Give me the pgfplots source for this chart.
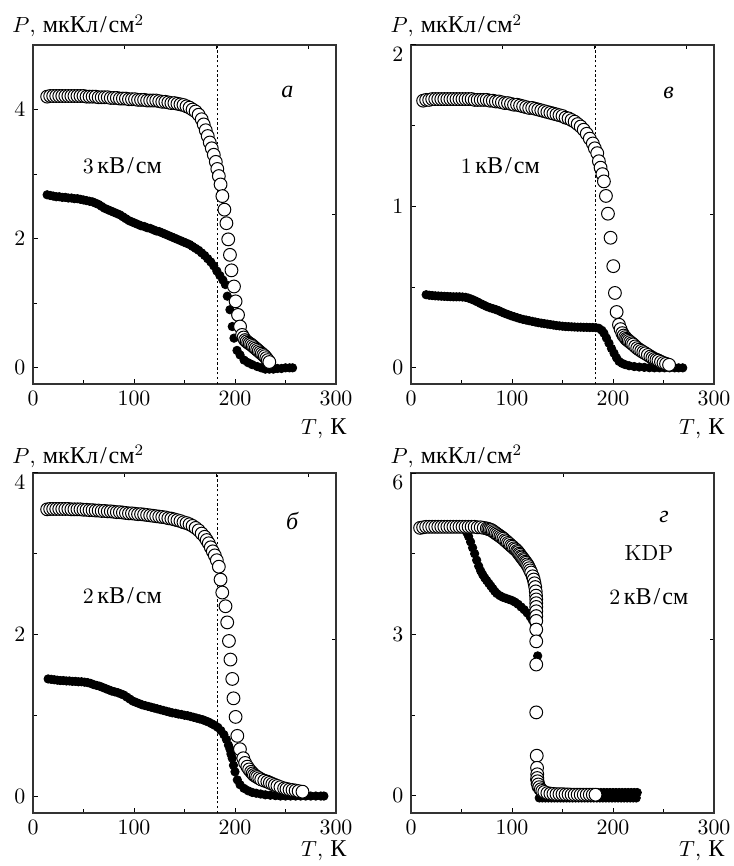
\documentclass[11pt,border=0pt]{standalone}
\usepackage{fontspec}
\newfontfamily\cyr[Scale=1.1]{Liberation Serif}
\usepackage{pgfplots}
\pgfplotsset{compat=1.18}

\newcommand{\unit}{{\cyr кВ\kern1pt/\kern1pt см}}

\pgfplotsset{
  panel/.style={
    scale only axis, width=151.5pt,
    xmin=0, xmax=300,
    xtick={0,100,200,300}, minor xtick={50,150,250},
    xtick pos=left, ytick pos=left,
    tick align=inside,
    major tick length=2.6pt, minor tick length=1.8pt,
    axis line style={line width=0.6pt, black!80},
    every tick/.style={line width=0.5pt, black},
    extra y tick style={yticklabel style={yshift=-4.5pt}},
    xlabel style={at={(axis description cs:1.036,0)}, anchor=base east, inner sep=0pt},
    ylabel style={rotate=-90, at={(axis description cs:-0.069,1)}, anchor=base west, inner sep=0pt},
    ylabel={$P$, {\cyr мкКл\kern1pt/\kern1pt см}$^2$},
    xlabel={$T$, {\cyr К}},
  },
  extraticks/.style={
    scale only axis, width=151.5pt,
    xmin=0, xmax=300,
    xtick pos=right, ytick pos=right,
    xticklabels={}, yticklabels={},
    tick align=inside, major tick length=2pt,
    axis line style={draw=none},
    every tick/.style={line width=0.5pt, black},
  },
  open/.style={only marks, mark=*, mark size=3.2pt,
    mark options={fill=white, draw=black, line width=0.5pt}},
  full/.style={only marks, mark=*, mark size=2.1pt,
    mark options={fill=black, draw=black}},
  tc/.style={dash pattern=on 1.2pt off 1.2pt, line width=0.45pt},
}

\begin{document}
\begin{tikzpicture}
\useasboundingbox (0,0) rectangle (366.5pt,433pt);

% ---------- panel a : 3 kV/cm ----------
\begin{axis}[extraticks, at={(16.5pt,241pt)}, anchor=south west, height=169.5pt,
  ymin=-0.25, ymax=5, xtick={91,182,273}, ytick={2.37}]
\end{axis}
\begin{axis}[panel, at={(16.5pt,241pt)}, anchor=south west, height=169.5pt,
  ymin=-0.25, ymax=5, ytick={0,2,4}, minor ytick={1,3},
  xlabel style={yshift=-25.5pt}, ylabel style={yshift=6pt}]
\addplot[tc] coordinates {(182.5,-0.25) (182.5,5)};
\addplot[full] coordinates {
(14,2.68)(17,2.67)(20,2.66)(23,2.65)(26,2.65)(29,2.64)(32,2.64)(35,2.63)(38,2.63)(41,2.62)
(44,2.62)(47,2.61)(50,2.60)(53,2.59)(56,2.58)(59,2.57)(62,2.55)(65,2.53)(68,2.50)(71,2.47)
(74,2.45)(77,2.43)(80,2.41)(83,2.39)(86,2.37)(89,2.34)(92,2.31)(95,2.28)(98,2.26)(101,2.24)
(104,2.22)(107,2.20)(110,2.19)(113,2.17)(116,2.16)(119,2.14)(122,2.12)(125,2.11)(128,2.09)
(131,2.07)(134,2.05)(137,2.03)(140,2.01)(143,1.99)(146,1.97)(149,1.95)(152,1.93)(155,1.91)
(158,1.88)(161,1.85)(164,1.82)(167,1.78)(170,1.74)(173,1.69)(176,1.64)(179,1.58)(182,1.50)
(185,1.43)(188,1.36)(190.5,1.29)(192.4,1.11)(195,0.90)(197.3,0.64)(199,0.46)(202,0.27)
(205,0.20)(209,0.12)(213,0.08)(217,0.05)(222,0.02)(226,0.00)(230,-0.02)(234,-0.02)(238,-0.02)
(242,-0.01)(246,-0.01)(250,0.00)(254,0.00)(257,0.00)};
\addplot[open] coordinates {
(14,4.20)(17,4.21)(20,4.21)(23,4.21)(26,4.21)(29,4.21)(32,4.21)(35,4.21)(38,4.21)(41,4.21)
(44,4.21)(47,4.21)(50,4.21)(53,4.20)(56,4.20)(59,4.20)(62,4.20)(65,4.19)(68,4.19)(71,4.19)
(74,4.19)(77,4.18)(80,4.18)(83,4.18)(86,4.17)(89,4.17)(92,4.17)(95,4.16)(98,4.16)(101,4.16)
(104,4.15)(107,4.15)(110,4.15)(113,4.14)(116,4.14)(119,4.14)(122,4.14)(125,4.13)(128,4.12)
(131,4.12)(134,4.11)(137,4.10)(140,4.10)(143,4.09)(146,4.08)(149,4.07)(152,4.05)(155,4.03)
(158,4.00)(161,3.97)(164,3.92)(167,3.85)(169,3.77)(171,3.68)(173,3.59)(175,3.49)(177,3.40)
(179,3.30)(181,3.19)(182.5,3.08)(184,2.97)(185.7,2.84)(187.5,2.66)(189.5,2.45)(191.5,2.24)
(193.3,1.99)(195,1.75)(196.5,1.51)(199,1.26)(200.6,1.03)(203,0.82)(205,0.64)(207,0.51)
(208.5,0.47)(210,0.43)(211.5,0.41)(213,0.39)(214.5,0.375)(216,0.36)(217.5,0.34)(219,0.32)
(220.5,0.30)(222,0.28)(223.5,0.26)(225,0.24)(226.5,0.22)(228,0.20)(229.5,0.18)(231,0.15)
(232.5,0.12)(234,0.09)};
\node at (axis description cs:0.84,0.86) {\cyr\itshape а};
\node at (axis description cs:0.295,0.643) {3\,\unit};
\end{axis}

% ---------- panel v : 1 kV/cm ----------
\begin{axis}[extraticks, at={(205.5pt,241pt)}, anchor=south west, height=169.5pt,
  ymin=-0.1, ymax=2, xtick={91,182,273}, ytick={0.95}]
\end{axis}
\begin{axis}[panel, at={(205.5pt,241pt)}, anchor=south west, height=169.5pt,
  ymin=-0.1, ymax=2, ytick={0,1}, extra y ticks={2}, minor ytick={0.5,1.5},
  xlabel style={yshift=-25.5pt}, ylabel style={yshift=6pt}]
\addplot[tc] coordinates {(182.5,-0.1) (182.5,2)};
\addplot[full] coordinates {
(15,0.453)(18,0.450)(21,0.448)(24,0.446)(27,0.445)(30,0.444)(33,0.443)(36,0.442)(39,0.441)
(42,0.440)(45,0.440)(48,0.440)(51,0.439)(54,0.437)(57,0.432)(60,0.425)(63,0.417)(66,0.408)
(69,0.398)(72,0.389)(75,0.380)(78,0.373)(81,0.367)(84,0.361)(87,0.354)(90,0.345)(93,0.337)
(96,0.330)(99,0.323)(102,0.317)(105,0.311)(108,0.305)(111,0.300)(114,0.296)(117,0.292)
(120,0.288)(123,0.284)(126,0.280)(129,0.277)(132,0.274)(135,0.271)(138,0.268)(141,0.265)
(144,0.262)(147,0.260)(150,0.258)(153,0.256)(156,0.255)(159,0.254)(162,0.253)(165,0.252)
(168,0.252)(171,0.251)(174,0.251)(177,0.250)(180,0.250)(183,0.249)(186,0.245)(189,0.232)
(191,0.215)(193.5,0.185)(196,0.153)(198.5,0.120)(201,0.091)(203.5,0.062)(206,0.040)
(209,0.028)(212,0.020)(216,0.013)(221,0.008)(226,0.005)(231,0.003)(236,0.001)(241,0)
(246,0)(251,0)(256,0)(261,0)(265,0)(269,0)};
\addplot[open] coordinates {
(12,1.655)(15,1.660)(18,1.660)(21,1.665)(24,1.665)(27,1.665)(30,1.665)(33,1.665)(36,1.665)
(39,1.665)(42,1.665)(45,1.665)(48,1.665)(51,1.665)(54,1.665)(57,1.665)(60,1.665)(63,1.660)
(66,1.660)(69,1.660)(72,1.660)(75,1.660)(78,1.655)(81,1.655)(84,1.650)(87,1.650)(90,1.645)
(93,1.640)(96,1.640)(99,1.635)(102,1.630)(105,1.630)(108,1.625)(111,1.620)(114,1.615)
(117,1.610)(120,1.610)(123,1.605)(126,1.600)(129,1.595)(132,1.590)(135,1.585)(138,1.580)
(141,1.575)(144,1.570)(147,1.565)(150,1.560)(153,1.550)(156,1.545)(159,1.535)(162,1.525)
(165,1.510)(168,1.495)(171,1.475)(174,1.450)(177,1.420)(180,1.390)(182,1.360)(184.4,1.330)
(186,1.280)(187.7,1.240)(189.5,1.200)(191,1.155)(193,1.065)(195,0.955)(197.6,0.806)
(200.3,0.630)(201.9,0.464)(203.6,0.346)(205.9,0.267)(207.5,0.240)(209.2,0.215)(210.5,0.200)
(212,0.190)(213,0.180)(214.2,0.174)(215.5,0.167)(217,0.160)(218.5,0.152)(220,0.145)
(222,0.133)(224,0.122)(226,0.113)(228,0.105)(230,0.097)(232,0.090)(234.5,0.080)(237,0.070)
(239,0.062)(241,0.055)(243,0.050)(245,0.045)(247.5,0.037)(250,0.030)(252.5,0.025)
(255.5,0.019)};
\node at (axis description cs:0.85,0.86) {\cyr\itshape в};
\node at (axis description cs:0.295,0.643) {1\,\unit};
\end{axis}

% ---------- panel b : 2 kV/cm ----------
\begin{axis}[extraticks, at={(16.5pt,26.5pt)}, anchor=south west, height=170pt,
  ymin=-0.21, ymax=4, xtick={91,182,273}, ytick={1.94}]
\end{axis}
\begin{axis}[panel, at={(16.5pt,26.5pt)}, anchor=south west, height=170pt,
  ymin=-0.21, ymax=4, ytick={0,2}, extra y ticks={4}, minor ytick={1,3},
  xlabel style={yshift=-21.5pt}, ylabel style={yshift=5pt}]
\addplot[tc] coordinates {(182.5,-0.21) (182.5,4)};
\addplot[full] coordinates {
(15,1.450)(18,1.445)(21,1.440)(24,1.435)(27,1.430)(30,1.430)(33,1.425)(36,1.425)(39,1.420)
(42,1.420)(45,1.415)(48,1.415)(51,1.410)(54,1.405)(57,1.395)(60,1.380)(63,1.370)(66,1.360)
(69,1.345)(72,1.330)(75,1.315)(78,1.300)(81,1.290)(84,1.280)(87,1.265)(90,1.250)(93,1.225)
(96,1.200)(99,1.175)(102,1.160)(105,1.145)(108,1.130)(111,1.120)(114,1.110)(117,1.100)
(120,1.090)(123,1.080)(126,1.070)(129,1.060)(132,1.050)(135,1.040)(138,1.030)(141,1.025)
(144,1.015)(147,1.010)(150,1.000)(153,0.995)(156,0.985)(159,0.975)(162,0.965)(165,0.955)
(168,0.945)(171,0.930)(174,0.915)(177,0.895)(180,0.875)(183,0.850)(186,0.810)(189,0.760)
(191.5,0.700)(193.5,0.630)(195,0.580)(196,0.520)(197.3,0.468)(198.5,0.380)(200,0.300)
(202.3,0.200)(205,0.140)(208.9,0.095)(213,0.065)(217,0.045)(221,0.035)(225.4,0.025)
(230,0.015)(235,0.010)(240,0.005)(245,0)(250,0)(255,0)(260,0)(265,0)(270,0)(275,0)
(280,0)(285,0)(288,0)};
\addplot[open] coordinates {
(14,3.550)(17,3.555)(20,3.555)(23,3.555)(26,3.555)(29,3.555)(32,3.555)(35,3.555)(38,3.550)
(41,3.550)(44,3.550)(47,3.550)(50,3.545)(53,3.545)(56,3.540)(59,3.540)(62,3.535)(65,3.535)
(68,3.530)(71,3.530)(74,3.525)(77,3.525)(80,3.520)(83,3.515)(86,3.515)(89,3.510)(92,3.505)
(95,3.500)(98,3.500)(101,3.495)(104,3.490)(107,3.490)(110,3.485)(113,3.480)(116,3.475)
(119,3.470)(122,3.465)(125,3.460)(128,3.455)(131,3.450)(134,3.440)(137,3.435)(140,3.425)
(143,3.415)(146,3.405)(149,3.390)(152,3.380)(155,3.365)(158,3.345)(161,3.320)(164,3.290)
(167,3.250)(170,3.210)(172,3.170)(174,3.130)(176,3.080)(178,3.030)(180,2.980)(182,2.920)
(184,2.840)(185.7,2.680)(187.4,2.520)(190.6,2.350)(192.3,2.150)(194,1.920)(195.5,1.690)
(197.3,1.450)(198.5,1.210)(200.6,0.980)(202.3,0.745)(204.9,0.580)(208.2,0.468)(210,0.410)
(212.2,0.364)(214,0.330)(216,0.300)(217.5,0.280)(218.8,0.260)(220.5,0.247)(222,0.235)
(224,0.220)(226,0.205)(229,0.190)(232,0.178)(234.5,0.164)(237,0.150)(239.5,0.137)(242,0.125)
(245,0.110)(248.6,0.095)(251,0.088)(254,0.080)(257,0.074)(260,0.068)(263,0.061)(266.8,0.054)};
\node at (axis description cs:0.855,0.86) {\cyr\itshape б};
\node at (axis description cs:0.295,0.64) {2\,\unit};
\end{axis}

% ---------- panel g : KDP ----------
\begin{axis}[extraticks, at={(205.5pt,26.5pt)}, anchor=south west, height=170pt,
  ymin=-0.32, ymax=6, xtick={151}, ytick={2.9}]
\end{axis}
\begin{axis}[panel, at={(205.5pt,26.5pt)}, anchor=south west, height=170pt,
  ymin=-0.32, ymax=6, ytick={0,3}, extra y ticks={6}, minor ytick={1.5,4.5},
  xlabel style={yshift=-21.5pt}, ylabel style={yshift=5pt}]
\addplot[full] coordinates {
(9,4.96)(12,4.97)(15,4.98)(18,4.98)(21,4.99)(24,4.99)(27,4.99)(30,4.99)(33,4.99)(36,4.99)
(39,4.99)(42,4.99)(45,4.99)(48,4.99)(51,4.98)(53,4.95)(55,4.90)(57,4.82)(59,4.72)(61,4.61)
(63,4.50)(65,4.38)(67,4.27)(69,4.18)(71,4.11)(73,4.05)(75,4.00)(77,3.95)(79,3.90)(81,3.85)
(83,3.80)(85,3.76)(88,3.72)(91,3.69)(94,3.67)(97,3.65)(100,3.63)(103,3.60)(106,3.56)
(109,3.51)(112,3.46)(115,3.40)(118,3.33)(120,3.27)(122,3.20)(123.5,3.10)(124.5,2.95)
(125.4,2.60)
(123,0.40)(122.5,0.30)(123,0.22)(124,0.15)(126,0.10)(128,0.07)(131,0.06)(134,0.06)(137,0.06)
(140,0.06)(143,0.06)(146,0.06)(149,0.06)(152,0.06)(155,0.06)(158,0.06)(161,0.06)(164,0.06)
(167,0.06)(170,0.06)(173,0.06)(176,0.06)(179,0.06)(182,0.06)(185,0.06)(188,0.06)(191,0.06)
(194,0.06)(197,0.06)(200,0.06)(203,0.06)(206,0.06)(209,0.06)(212,0.06)(215,0.06)(218,0.06)
(221,0.06)(224,0.06)
(127,-0.04)(130,-0.04)(133,-0.04)(136,-0.04)(139,-0.04)(142,-0.04)(145,-0.04)(148,-0.04)
(151,-0.04)(154,-0.04)(157,-0.04)(160,-0.04)(163,-0.04)(166,-0.04)(169,-0.04)(172,-0.04)
(175,-0.04)(178,-0.04)(181,-0.04)(184,-0.04)(187,-0.04)(190,-0.04)(193,-0.04)(196,-0.04)
(199,-0.04)(202,-0.04)(205,-0.04)(208,-0.04)(211,-0.04)(214,-0.04)(217,-0.04)(220,-0.04)
(223,-0.04)};
\addplot[open] coordinates {
(9,4.98)(12,4.99)(15,5.00)(18,5.00)(21,5.00)(24,5.00)(27,5.00)(30,5.00)(33,5.00)(36,5.00)
(39,5.00)(42,5.00)(45,5.00)(48,5.00)(51,5.00)(54,5.00)(57,5.00)(60,5.00)(63,5.00)(66,4.99)
(69,4.99)(72,4.98)(75,4.97)(76.5,4.96)(78,4.95)(79.5,4.94)(81,4.92)(82.5,4.90)(84,4.88)
(85.5,4.86)(87,4.84)(88.5,4.82)(90,4.80)(91.5,4.78)(93,4.75)(94.5,4.73)(96,4.70)(97.5,4.68)
(99,4.65)(100.5,4.63)(102,4.60)(103.5,4.58)(105,4.55)(106,4.53)(107,4.50)(108,4.48)(109,4.45)
(110,4.43)(111,4.40)(112,4.38)(113,4.35)(114,4.33)(115,4.30)(116,4.27)(117,4.23)(118,4.19)
(119,4.15)(120.5,4.08)(121.5,4.02)(122.3,3.95)(123,3.88)(123.5,3.80)(123.8,3.72)(124,3.65)
(124,3.58)(124,3.51)(124,3.43)(124,3.34)(124,3.25)(124,3.09)(124,2.87)(124,2.44)(124,1.55)
(124.5,0.745)(124.8,0.52)(125,0.40)(125,0.33)(125.3,0.27)(126,0.21)(127,0.16)(128.5,0.12)
(130,0.09)(132,0.07)(135,0.05)(138,0.04)(141,0.035)(144,0.03)(147,0.03)(150,0.03)(153,0.025)
(156,0.025)(159,0.02)(162,0.02)(165,0.02)(168,0.02)(171,0.02)(174,0.02)(177,0.02)(180,0.02)
(182.7,0.02)};
\node at (axis description cs:0.835,0.87) {\cyr\itshape г};
\node at (axis description cs:0.785,0.765) {KDP};
\node at (axis description cs:0.785,0.635) {2\,\unit};
\end{axis}
\end{tikzpicture}
\end{document}
